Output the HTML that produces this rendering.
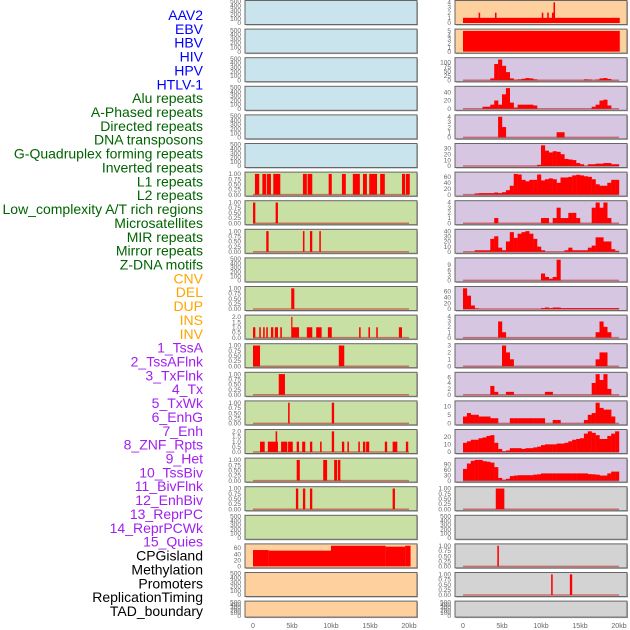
<!DOCTYPE html>
<html><head><meta charset="utf-8"><style>
html,body{margin:0;padding:0;background:#fff;width:630px;height:630px;overflow:hidden}
svg{display:block}
</style></head><body>
<svg id="chart" width="630" height="630" xmlns="http://www.w3.org/2000/svg" font-family="Liberation Sans, sans-serif"></svg>
<script>
const rowLabels = ["AAV2","EBV","HBV","HIV","HPV","HTLV-1","Alu repeats","A-Phased repeats","Directed repeats","DNA transposons","G-Quadruplex forming repeats","Inverted repeats","L1 repeats","L2 repeats","Low_complexity A/T rich regions","Microsatellites","MIR repeats","Mirror repeats","Z-DNA motifs","CNV","DEL","DUP","INS","INV","1_TssA","2_TssAFlnk","3_TxFlnk","4_Tx","5_TxWk","6_EnhG","7_Enh","8_ZNF_Rpts","9_Het","10_TssBiv","11_BivFlnk","12_EnhBiv","13_ReprPC","14_ReprPCWk","15_Quies","CPGisland","Methylation","Promoters","ReplicationTiming","TAD_boundary"];
const labelColors = ["#0000ff","#0000ff","#0000ff","#0000ff","#0000ff","#0000ff","#006400","#006400","#006400","#006400","#006400","#006400","#006400","#006400","#006400","#006400","#006400","#006400","#006400","#ffa500","#ffa500","#ffa500","#ffa500","#ffa500","#a020f0","#a020f0","#a020f0","#a020f0","#a020f0","#a020f0","#a020f0","#a020f0","#a020f0","#a020f0","#a020f0","#a020f0","#a020f0","#a020f0","#a020f0","#000","#000","#000","#000","#000"];
const xTicks = [0,5,10,15,20];
const xTickLabels = ["0","5kb","10kb","15kb","20kb"];

// left column segments [startKb, endKb, value]
const L6 = [[0.25,0.8,1],[1.2,1.7,1],[1.8,2.3,1],[2.6,3.5,1],[6.4,6.9,1],[7.0,7.6,1],[9.7,10.1,1],[11.4,11.9,1],[12.8,13.7,1],[14.1,14.6,1],[14.9,15.9,1],[16.3,16.9,1],[19.1,19.5,1],[19.6,20.1,1]];
const L7 = [[0,0.3,1],[2.9,3.2,1]];
const L8 = [[1.7,2.0,1],[6.4,6.6,1],[7.3,7.6,1],[8.5,8.7,1]];
const L10 = [[4.9,5.3,1]];
const L11 = [[0,0.3,1],[0.8,1.0,1],[1.3,1.5,1],[1.7,1.9,1],[2.3,2.6,1],[2.8,3.2,1],[3.5,3.7,1],[4.9,5.0,2],[5.0,5.9,1],[6.9,7.6,1],[8.1,8.8,1],[9.6,10.1,1],[13.6,13.8,1],[14.8,15.0,1],[15.8,16.0,1],[18.7,19.1,1]];
const L12 = [[0,0.9,1],[11.0,11.7,1]];
const L13 = [[3.3,4.1,1]];
const L14 = [[4.5,4.7,1],[10.1,10.4,1]];
const L15 = [[0.9,1.5,1],[1.9,3.2,1],[2.9,3.1,2],[3.6,4.4,1],[4.5,5.1,1],[5.6,5.9,1],[6.3,6.7,1],[7.3,7.6,1],[8.6,8.8,1],[10.1,10.4,2],[11.4,11.7,1],[12.1,12.3,1],[13.5,13.7,1],[14.1,14.4,1],[14.5,14.9,1],[16.9,17.2,1],[17.9,18.5,1],[19.6,19.9,1]];
const L16 = [[5.6,6.0,1],[9.0,9.5,1],[10.4,10.8,1],[10.9,11.2,1]];
const L17 = [[5.5,5.8,1],[6.4,6.7,1],[7.3,7.6,1],[17.9,18.2,1]];
const L19 = [[0,2,53],[2,10,51],[10,17,67],[17,19.5,64],[19.5,20.2,67]];

// right column
const R0 = [[0,20.1,1],[2.0,2.2,2],[4.1,4.3,2],[10.1,10.3,2],[10.8,11.0,2],[11.4,11.6,2],[11.6,11.8,4]];
const R1 = [[0,20.1,5]];
// 40 bins of 0.5kb
const R2 = [0,0,0,0,0,0,0,10,90,115,80,45,10,3,5,8,12,10,5,0,0,0,0,0,0,0,0,0,0,0,0,5,4,0,4,10,12,7,0,0];
const R3 = [0,0,0,0,0,5,5,10,20,10,35,50,15,3,10,10,10,10,8,0,0,0,0,0,0,0,0,0,0,0,0,0,0,5,10,20,22,8,0,0];
const R4 = [0,0,0,0,0,0,0,0,0,4,2,0,0,0,0,0,0,0,0,0,0,0,0,0,1,1,0,0,0,0,0,0,0,0,0,0,0,0,0,0];
const R5 = [0,0,0,0,0,0,0,0,0,0,0,0,0,0,0,0,0,0,0,2,35,26,23,25,24,20,12,11,10,5,3,0,3,3,4,4,5,5,3,3];
const R6 = [0,0,0,4,5,5,5,5,7,5,8,15,30,70,68,50,45,50,50,68,48,52,55,52,40,58,58,60,65,67,65,62,60,52,35,30,30,40,50,50];
const R7 = [0,0,0,0,0,0,0,0,1,0,0,0,0,0,0,0,0,0,0,0,1,1,0,1,3,1,1,2,2,1,0,0,0,3,4,3,4,1,0,0];
const R8 = [0,0,0,3,3,3,3,25,30,8,3,20,38,27,35,38,40,35,25,10,3,0,0,0,0,0,3,8,3,3,3,3,8,12,28,28,20,20,5,2];
const R9 = [0,0,0,0,0,0,0,0,0,0,0,0,0,0,0,0,0,0,0,0,4,2,1,2,12,0,0,0,0,0,0,0,0,0,0,0,0,0,0,0];
const R10 = [70,45,12,2,0,0,0,0,0,0,0,0,0,0,0,0,0,0,0,0,3,5,3,5,5,3,3,3,3,3,3,3,3,3,3,3,3,3,3,3];
const R11 = [0,0,0,0,0,0,0,0,0,3,1,0,0,0,0,0,0,0,0,0,0,0,0,0,0,0,0,0,0,0,0,0,0,0,1,3,2,1,0,0];
const R12 = [0,0,0,0,0,0,0,0,0,0,3,2,1,0,0,0,0,0,0,0,0,0,0,0,0,0,0,0,0,0,0,0,0,0,1,2,2,0,0,0];
const R13 = [0,0,0,0,0,0,0,3,1,0,0,1,1,0,0,0,0,0,0,0,0,1,1,0,0,0,0,0,0,0,0,0,0,4,7,5,7,2,0,0];
const R14 = [4,6,5,5,4,4,4,3,3,0,0,0,3,3,3,3,3,3,3,3,3,0,0,2,2,0,0,0,0,0,0,2,5,6,12,9,8,8,4,0];
const R15 = [12,14,16,16,18,19,21,22,12,4,1,2,5,5,5,4,5,5,6,7,9,10,10,10,11,11,12,14,16,17,18,24,27,25,22,17,17,21,24,27];
const R16 = [65,95,110,115,115,108,105,100,75,15,5,10,25,28,30,30,30,30,33,35,40,40,40,40,40,40,40,40,40,40,40,40,36,35,33,28,28,40,50,50];
const R17 = [[4.2,5.3,1]];
const R19 = [[4.4,4.6,1]];
const R20 = [[11.3,11.5,1],[13.7,14.0,1]];

const T500=[0,100,200,300,400,500], T1=[0,0.25,0.5,0.75,1], T2=[0,0.5,1,1.5,2];
const BLUE="#c9e4ec", GREEN="#c8e0a4", PEACH="#fed09e", PURPLE="#d6c6e2", GREY="#d3d3d3";

const leftPanels = [
 {bg:BLUE,t:T500},{bg:BLUE,t:T500},{bg:BLUE,t:T500},{bg:BLUE,t:T500},{bg:BLUE,t:T500},{bg:BLUE,t:T500},
 {bg:GREEN,t:T1,s:L6},{bg:GREEN,t:T1,s:L7},{bg:GREEN,t:T1,s:L8},{bg:GREEN,t:T500},{bg:GREEN,t:T1,s:L10},
 {bg:GREEN,t:T2,s:L11,d:1},{bg:GREEN,t:T1,s:L12},{bg:GREEN,t:T1,s:L13},{bg:GREEN,t:T1,s:L14},{bg:GREEN,t:T2,s:L15,d:1},
 {bg:GREEN,t:T1,s:L16},{bg:GREEN,t:T1,s:L17},{bg:GREEN,t:T500},
 {bg:PEACH,t:[0,20,40,60],s:L19,nob:1},{bg:PEACH,t:T500},{bg:PEACH,t:T500}
];
const rightPanels = [
 {bg:PEACH,t:[0,1,2,3,4],s:R0,nob:1},{bg:PEACH,t:[0,1,2,3,4,5],s:R1,nob:1},
 {bg:PURPLE,t:[0,25,50,75,100],b:R2},{bg:PURPLE,t:[0,20,40],b:R3},{bg:PURPLE,t:[0,1,2,3,4],b:R4},
 {bg:PURPLE,t:[0,10,20,30],b:R5},{bg:PURPLE,t:[0,20,40,60],b:R6},{bg:PURPLE,t:[0,1,2,3,4],b:R7},
 {bg:PURPLE,t:[0,10,20,30,40],b:R8},{bg:PURPLE,t:[0,3,6,9],b:R9},{bg:PURPLE,t:[0,20,40,60],b:R10},
 {bg:PURPLE,t:[0,1,2,3,4],b:R11},{bg:PURPLE,t:[0,1,2,3],b:R12},{bg:PURPLE,t:[0,2,4,6],b:R13},
 {bg:PURPLE,t:[0,5,10],b:R14},{bg:PURPLE,t:[0,10,20],b:R15},{bg:PURPLE,t:[0,30,60,90],b:R16},
 {bg:GREY,t:T1,s:R17},{bg:GREY,t:T500},{bg:GREY,t:T1,s:R19},{bg:GREY,t:T1,s:R20},{bg:GREY,t:T500}
];

const NS="http://www.w3.org/2000/svg";
const svg=document.getElementById('chart');
function mk(tag,attrs,parent){const e=document.createElementNS(NS,tag);for(const k in attrs)e.setAttribute(k,attrs[k]);(parent||svg).appendChild(e);return e;}

// labels
const LG=mk('g',{});


rowLabels.forEach((lab,i)=>{
  const t=mk('text',{x:203,y:20+i*13.86,'text-anchor':'end','font-size':'14',fill:labelColors[i]},LG);
  t.textContent=lab;
  
  
});

const colX=[245,455];
function xs(col,kb){return colX[col]+8+kb*7.8;}
function rowTop(i){return 0.5+i*28.6;}

function drawPanel(col,i,p){
  const top=rowTop(i), h=(i===21)?16:24, x0=colX[col];
  const g=mk('g',{});
  
  
  mk('rect',{x:x0+1,y:top+1,width:172,height:h,fill:'#aaa'},g);
  mk('rect',{x:x0,y:top,width:172,height:h,fill:p.bg,stroke:'#666','stroke-width':1},g);
  const lastT=p.t[p.t.length-1];
  let dmax=0;
  if(p.b)p.b.forEach(v=>{if(v>dmax)dmax=v;});
  if(p.s)p.s.forEach(s=>{if(s[2]>dmax)dmax=s[2];});
  const ymax=Math.max(dmax*1.04,lastT);
  const y0=top+h-1.5, y1=top+1;
  const ys=v=>y0-v/ymax*(y0-y1);
  const tx=x0-4;
  p.t.forEach(v=>{
    const lbl=(p.t===T1)?v.toFixed(2):(p.d?v.toFixed(1):String(v));
    const t=mk('text',{x:tx,y:ys(v)+2.2,'text-anchor':'end','font-size':'6.5',fill:'#666'},g);
    t.textContent=lbl;
    
    
  });
  if(p.b){
    p.b.forEach((v,k)=>{
      if(v<=0)return;
      const r=mk('rect',{x:xs(col,k*0.5),y:ys(v),width:xs(col,(k+1)*0.5)-xs(col,k*0.5)+0.2,height:y0-ys(v),fill:'#ff0000'},g);
      
      
    });
  }
  if(p.s){
    p.s.forEach(s=>{
      const r=mk('rect',{x:xs(col,s[0]),y:ys(s[2]),width:Math.max(1.2,xs(col,s[1])-xs(col,s[0])),height:y0-ys(s[2]),fill:'#ff0000'},g);
      
      
    });
  }
  if((p.b||p.s)&&!p.nob){
    mk('line',{x1:xs(col,0),x2:xs(col,20),y1:y0,y2:y0,stroke:'rgba(190,30,30,0.55)','stroke-width':1.5},g);
  }
}
leftPanels.forEach((p,i)=>drawPanel(0,i,p));
rightPanels.forEach((p,i)=>drawPanel(1,i,p));

[0,1].forEach(col=>{
  const g=mk('g',{});
  
  
  xTicks.forEach((v,k)=>{
    const t=mk('text',{x:xs(col,v),y:628,'text-anchor':'middle','font-size':'7',fill:'#666'},g);
    t.textContent=xTickLabels[k];
    
    
  });
});
</script>
</body></html>
